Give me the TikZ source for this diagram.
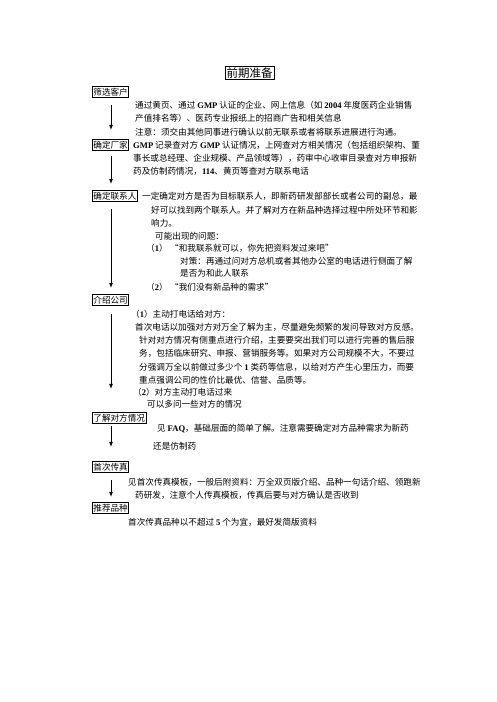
\documentclass[tikz,border=0pt]{standalone}
\usepackage{fontspec}
\setmainfont{Noto Sans CJK SC}
\newfontfamily\lat{Liberation Serif}
\newfontfamily\fw[RawFeature=+fwid]{Noto Sans CJK SC}
\usetikzlibrary{arrows.meta}
\newcommand{\la}[1]{{\lat\bfseries #1}}
\newcommand{\myLq}{{\fw “}}
\newcommand{\myRq}{{\fw ”}}
\begin{document}
\begin{tikzpicture}[x=1pt,y=-1pt,
  txt/.style={anchor=west,inner sep=0pt,font=\fontsize{8.6}{10}\selectfont},
  stepbox/.style={draw,line width=0.8pt,anchor=west,inner xsep=1pt,inner ysep=0pt,minimum height=11.5pt,font=\fontsize{8.6}{10}\selectfont},
  arr/.style={line width=0.8pt,-{Latex[length=5pt,width=4pt]}}]
\useasboundingbox (0,0) rectangle (496,702);
\coordinate (ax) at (111,0);
% title
\node[draw,line width=0.8pt,inner sep=1.5pt,font=\fontsize{11.5}{13}\selectfont] (title) at (249.5,73) {前期准备};
% boxes
\node[stepbox] (b1) at (92,92) {筛选客户};
\node[stepbox] (b2) at (92,145) {确定厂家};
\node[stepbox] (b3) at (92,196) {确定联系人};
\node[stepbox] (b4) at (92,300) {介绍公司};
\node[stepbox] (b5) at (92,418) {了解对方情况};
\node[stepbox] (b6) at (92,467) {首次传真};
\node[stepbox] (b7) at (92,508) {推荐品种};
% arrows
\draw[arr,shorten <=7pt,shorten >=9pt] (b1.south -| ax) -- (b2.north -| ax);
\draw[arr,shorten <=5pt,shorten >=6pt] (b2.south -| ax) -- (b3.north -| ax);
\draw[arr,shorten <=7pt,shorten >=6pt] (b3.south -| ax) -- (b4.north -| ax);
\draw[arr,shorten <=8pt,shorten >=23pt] (b4.south -| ax) -- (b5.north -| ax);
\draw[arr,shorten <=2pt,shorten >=14pt] (b5.south -| ax) -- (b6.north -| ax);
\draw[arr,shorten <=7pt,shorten >=5pt] (b6.south -| ax) -- (b7.north -| ax);
% texts
\node[txt] (t1) at (135,105) {通过黄页、通过 \la{GMP} 认证的企业、网上信息（如 \la{2004} 年度医药企业销售};
\node[txt] (t2) at (135,118) {产值排名等）、医药专业报纸上的招商广告和相关信息};
\node[txt] (t3) at (135,132) {注意：须交由其他同事进行确认以前无联系或者将联系进展进行沟通。};
\node[txt] (t4) at (133,145) {\la{GMP} 记录查对方 \la{GMP} 认证情况，上网查对方相关情况（包括组织架构、董};
\node[txt] (t5) at (133,158) {事长或总经理、企业规模、产品领域等），药审中心收审目录查对方申报新};
\node[txt] (t6) at (133,171) {药及仿制药情况，\la{114}、黄页等查对方联系电话};
\node[txt] (t7) at (142,196) {一定确定对方是否为目标联系人，即新药研发部部长或者公司的副总，最};
\node[txt] (t8) at (151,210) {好可以找到两个联系人。并了解对方在新品种选择过程中所处环节和影};
\node[txt] (t9) at (151,223) {响力。};
\node[txt] (t10) at (155,236) {可能出现的问题：};
\node[txt] (t11a) at (146,248) {（\la{1}）};
\node[txt] (t11b) at (170,248) {\myLq 和我联系就可以，你先把资料发过来吧\myRq};
\node[txt] (t12) at (180,261) {对策：再通过问对方总机或者其他办公室的电话进行侧面了解};
\node[txt] (t13) at (180,273) {是否为和此人联系};
\node[txt] (t14a) at (146,287) {（\la{2}）};
\node[txt] (t14b) at (170,287) {\myLq 我们没有新品种的需求\myRq};
\node[txt] (t15) at (131,314) {（\la{1}）主动打电话给对方：};
\node[txt] (t16) at (135,327) {首次电话以加强对方对万全了解为主，尽量避免频繁的发问导致对方反感。};
\node[txt] (t17) at (139,340) {针对对方情况有侧重点进行介绍，主要要突出我们可以进行完善的售后服};
\node[txt] (t18) at (139,353) {务，包括临床研究、申报、营销服务等。如果对方公司规模不大，不要过};
\node[txt] (t19) at (139,367) {分强调万全以前做过多少个 \la{1} 类药等信息，以给对方产生心里压力，而要};
\node[txt] (t20) at (139,380) {重点强调公司的性价比最优、信誉、品质等。};
\node[txt] (t21) at (133,392) {（\la{2}）对方主动打电话过来};
\node[txt] (t22) at (147,404) {可以多问一些对方的情况};
\node[txt] (t23) at (157,429) {见 \la{FAQ}，基础层面的简单了解。注意需要确定对方品种需求为新药};
\node[txt] (t24) at (153,446) {还是仿制药};
\node[txt] (t25) at (128,482) {见首次传真模板，一般后附资料：万全双页版介绍、品种一句话介绍、领跑新};
\node[txt] (t26) at (135,495) {药研发，注意个人传真模板，传真后要与对方确认是否收到};
\node[txt] (t27) at (128,522) {首次传真品种以不超过 \la{5} 个为宜，最好发简版资料};
\end{tikzpicture}
\end{document}
